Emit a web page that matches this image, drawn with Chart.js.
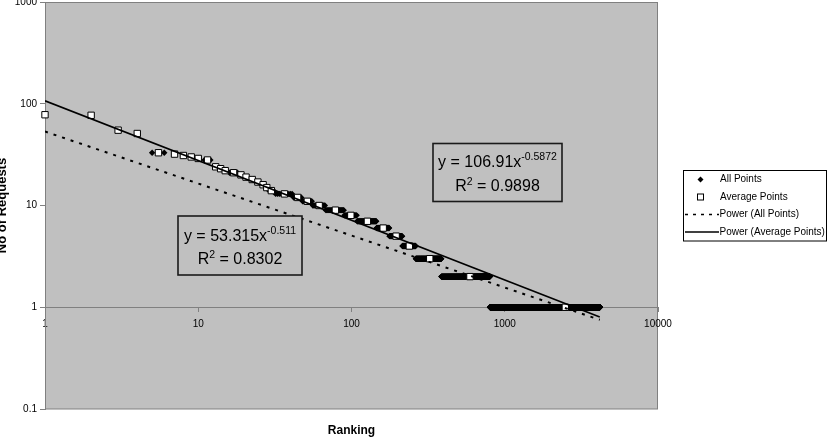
<!DOCTYPE html>
<html><head><meta charset="utf-8">
<script src="https://cdn.jsdelivr.net/npm/chart.js@4.4.0/dist/chart.umd.min.js"></script>
<style>html,body{margin:0;padding:0;background:#fff;}#wrap{width:836px;height:438px;position:relative;}canvas{display:block;}</style>
</head><body><div id="wrap"><canvas id="c" width="836" height="438"></canvas></div>
<script>
// ---- data ----
// "All Points": runs of equal request counts over consecutive ranks
const allRunStart = [1,2,3,4,5,7,8,9,10,11,13,14,15,16,19,20,22,24,26,28,29,32,42,48,56,68,90,109,146,177,215,263,386,801];
const allRunEnd   = [1,2,3,4,6,7,8,9,10,12,13,14,15,18,19,21,23,25,27,28,31,41,47,55,67,89,108,145,176,214,262,385,800,4170];
const allRunValue = [78,77,55,51,33,32,31,30,29,28,24,23,22,21,20,19,18,17,16,15,14,13,12,11,10,9,8,7,6,5,4,3,2,1];
// "Average Points"
const avgRank  = [1,2,3,4,5.5,7,8,9,10,11.5,13,14,15,17,19,20.5,22.5,24.5,26.5,28,30,36.5,44.5,51.5,61.5,78.5,99,127,161,195.5,238.5,324,593,2485];
const avgValue = [78,77,55,51,33,32,31,30,29,28,24,23,22,21,20,19,18,17,16,15,14,13,12,11,10,9,8,7,6,5,4,3,2,1];
// trend lines (end points)
const trendX    = [1, 4170];
const powerAllY = [53.32, 0.753];
const powerAvgY = [106.9, 0.800];
// ticks and labels
const xTicks = [1,10,100,1000,10000];
const xTickLabels = ['1','10','100','1000','10000'];
const yTicks = [0.1,1,10,100,1000];
const yTickLabels = ['0.1','1','10','100','1000'];
const seriesNames = ['All Points','Average Points','Power (All Points)','Power (Average Points)'];
const fitAll = {coef:'53.315', exp:'-0.511', r2:'0.8302'};
const fitAvg = {coef:'106.91', exp:'-0.5872', r2:'0.9898'};
const xTitle = 'Ranking';
const yTitle = 'No of Requests';

const FONT = '"Liberation Sans", Arial, sans-serif';
const allPts = [];
for (let k = 0; k < allRunStart.length; k++) {
  for (let r = allRunStart[k]; r <= allRunEnd[k]; r++) allPts.push({x: r, y: allRunValue[k]});
}

function drawEq(ctx, cx, y1, y2, fit) {
  const big = '16px ' + FONT, small = '10.5px ' + FONT;
  ctx.fillStyle = '#000'; ctx.textAlign = 'left'; ctx.textBaseline = 'alphabetic';
  ctx.font = big; const m1 = 'y = ' + fit.coef + 'x'; const w1 = ctx.measureText(m1).width;
  ctx.font = small; const w2 = ctx.measureText(fit.exp).width;
  let x = cx - (w1 + w2) / 2;
  ctx.font = big; ctx.fillText(m1, x, y1);
  ctx.font = small; ctx.fillText(fit.exp, x + w1, y1 - 7);
  ctx.font = big; const wr = ctx.measureText('R').width; const rest = ' = ' + fit.r2; const wrest = ctx.measureText(rest).width;
  ctx.font = small; const ws = ctx.measureText('2').width;
  x = cx - (wr + ws + wrest) / 2;
  ctx.font = big; ctx.fillText('R', x, y2);
  ctx.font = small; ctx.fillText('2', x + wr, y2 - 6);
  ctx.font = big; ctx.fillText(rest, x + wr + ws, y2);
}

const deco = {
  id: 'deco',
  beforeDraw(chart) {
    const {ctx, chartArea: a} = chart;
    ctx.save();
    ctx.fillStyle = '#C0C0C0';
    ctx.fillRect(a.left, a.top, a.right - a.left, a.bottom - a.top);
    ctx.strokeStyle = '#808080'; ctx.lineWidth = 1;
    ctx.strokeRect(a.left + 0.5, a.top + 0.5, a.right - a.left - 1, a.bottom - a.top - 0.5);
    ctx.restore();
  },
  afterDraw(chart) {
    const ctx = chart.ctx;
    ctx.save();
    // equation boxes
    const boxes = [[178, 216, 124, 59, fitAll, 241, 263.5], [433, 143.5, 129, 58, fitAvg, 166.5, 191]];
    for (const b of boxes) {
      ctx.fillStyle = '#C0C0C0'; ctx.fillRect(b[0], b[1], b[2], b[3]);
      ctx.strokeStyle = '#1a1a1a'; ctx.lineWidth = 1.6; ctx.strokeRect(b[0], b[1], b[2], b[3]);
      drawEq(ctx, b[0] + b[2] / 2, b[5], b[6], b[4]);
    }
    // legend
    ctx.fillStyle = '#fff'; ctx.fillRect(683, 170.5, 143.5, 70.5);
    ctx.strokeStyle = '#000'; ctx.lineWidth = 1; ctx.strokeRect(683.5, 170.5, 143, 70.5);
    const ly = [179.5, 197, 214.5, 232];
    ctx.fillStyle = '#000'; ctx.beginPath();
    ctx.moveTo(700.5, ly[0] - 3); ctx.lineTo(703.5, ly[0]); ctx.lineTo(700.5, ly[0] + 3); ctx.lineTo(697.5, ly[0]); ctx.closePath(); ctx.fill();
    ctx.fillStyle = '#fff'; ctx.fillRect(697.5, ly[1] - 3, 6, 6);
    ctx.strokeStyle = '#000'; ctx.lineWidth = 1; ctx.strokeRect(697.5, ly[1] - 3, 6, 6);
    ctx.lineWidth = 1.5; ctx.setLineDash([3, 5]);
    ctx.beginPath(); ctx.moveTo(685, ly[2]); ctx.lineTo(719, ly[2]); ctx.stroke();
    ctx.setLineDash([]);
    ctx.beginPath(); ctx.moveTo(685, ly[3]); ctx.lineTo(719, ly[3]); ctx.stroke();
    ctx.fillStyle = '#000'; ctx.font = '10px ' + FONT; ctx.textBaseline = 'middle'; ctx.textAlign = 'left';
    ctx.fillText(seriesNames[0], 720, ly[0]);
    ctx.fillText(seriesNames[1], 720, ly[1]);
    ctx.fillText(seriesNames[2], 719.5, ly[2]);
    ctx.fillText(seriesNames[3], 719.5, ly[3]);
    // axis titles
    ctx.font = 'bold 12px ' + FONT; ctx.textAlign = 'center'; ctx.textBaseline = 'middle';
    ctx.fillText(xTitle, 351.5, 431);
    ctx.translate(6, 205.5); ctx.rotate(-Math.PI / 2);
    ctx.font = 'bold 13px ' + FONT; ctx.textBaseline = 'alphabetic';
    ctx.fillText(yTitle, 0, 0);
    ctx.restore();
  }
};

new Chart(document.getElementById('c'), {
  type: 'scatter',
  data: {
    datasets: [
      {label: seriesNames[3], data: trendX.map((x, i) => ({x, y: powerAvgY[i]})), showLine: true,
       borderColor: '#000', borderWidth: 1.6, pointRadius: 0, fill: false},
      {label: seriesNames[2], data: trendX.map((x, i) => ({x, y: powerAllY[i]})), showLine: true,
       borderColor: '#000', borderWidth: 2, borderDash: [3, 6], pointRadius: 0, fill: false},
      {label: seriesNames[1], data: avgRank.map((x, i) => ({x, y: avgValue[i]})), pointStyle: 'rect',
       pointRadius: 4.5, backgroundColor: '#fff', borderColor: '#000', borderWidth: 1, clip: false},
      {label: seriesNames[0], data: allPts, pointStyle: 'rectRot', pointRadius: 3.2,
       backgroundColor: '#000', borderColor: '#000', borderWidth: 0, clip: false}
    ]
  },
  options: {
    responsive: false, animation: false, devicePixelRatio: 1, events: [],
    layout: {autoPadding: false, padding: {left: 0, top: 2, right: 178, bottom: 29}},
    plugins: {legend: {display: false}, tooltip: {enabled: false}},
    scales: {
      x: {
        type: 'logarithmic', min: 1, max: 10000, position: {y: 1},
        afterBuildTicks: s => { s.ticks = xTicks.map(v => ({value: v})); },
        afterFit: s => { s.paddingLeft = 0; s.paddingRight = 0; s.paddingTop = 0; s.paddingBottom = 0; },
        ticks: {callback: (v, i) => xTickLabels[i], font: {family: FONT, size: 10}, color: '#000',
                padding: 7, maxRotation: 0, autoSkip: false},
        grid: {display: true, drawOnChartArea: false, drawTicks: true, tickLength: 4, color: '#808080'},
        border: {display: true, color: '#808080', width: 1}
      },
      y: {
        type: 'logarithmic', min: 0.1, max: 1000, position: 'left',
        afterBuildTicks: s => { s.ticks = yTicks.map(v => ({value: v})); },
        afterFit: s => { s.width = 45; s.paddingTop = 0; s.paddingBottom = 0; s.paddingLeft = 0; s.paddingRight = 0; },
        ticks: {callback: (v, i) => yTickLabels[i], font: {family: FONT, size: 10}, color: '#000',
                padding: 3, autoSkip: false},
        grid: {display: true, drawOnChartArea: false, drawTicks: true, tickLength: 5, color: '#808080'},
        border: {display: true, color: '#808080', width: 1}
      }
    }
  },
  plugins: [deco]
});
</script></body></html>
